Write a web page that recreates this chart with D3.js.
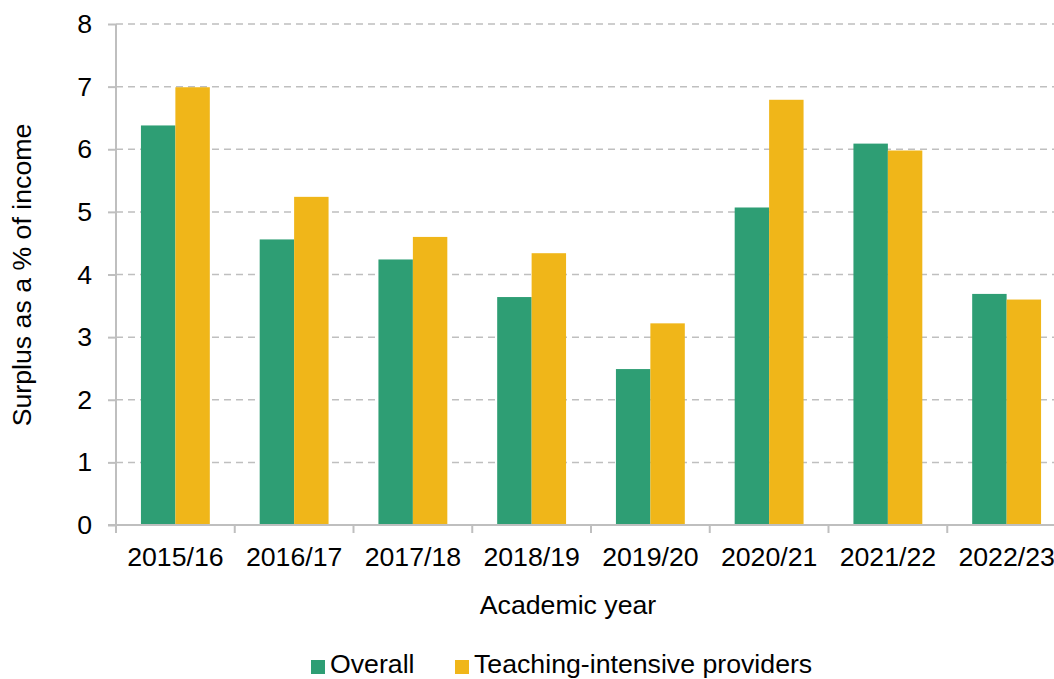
<!DOCTYPE html>
<html>
<head>
<meta charset="utf-8">
<script src="https://cdn.jsdelivr.net/npm/d3@7"></script>
<style>
  body { margin: 0; background: #fff; }
  text { font-family: "Liberation Sans", Arial, sans-serif; fill: #000; }
</style>
</head>
<body>
<svg id="chart" width="1054" height="679"></svg>
<script>
var years = ["2015/16", "2016/17", "2017/18", "2018/19", "2019/20", "2020/21", "2021/22", "2022/23"];
var overall = [6.38, 4.56, 4.24, 3.64, 2.49, 5.07, 6.09, 3.69];
var teaching = [6.99, 5.24, 4.6, 4.34, 3.22, 6.79, 5.98, 3.6];
var seriesNames = ["Overall", "Teaching-intensive providers"];
var colors = ["#2E9E74", "#F0B619"];
var yTicks = [0, 1, 2, 3, 4, 5, 6, 7, 8];

var fs = "26.7px";
var margin = { top: 24, left: 116 },
    width = 950,
    height = 501;

var svg = d3.select("#chart")
  .append("g")
  .attr("transform", "translate(" + margin.left + "," + margin.top + ")");

var x = d3.scaleBand().domain(years).range([0, width]).paddingInner(0).paddingOuter(0);
var x1 = d3.scaleBand().domain(seriesNames).range([x.bandwidth() * 0.21, x.bandwidth() * 0.79]);
var y = d3.scaleLinear().domain([0, 8]).range([height, 0]);

// gridlines
svg.selectAll(".grid")
  .data(yTicks.slice(1))
  .enter().append("line")
  .attr("x1", 0).attr("x2", width)
  .attr("y1", function (d) { return y(d); })
  .attr("y2", function (d) { return y(d); })
  .attr("stroke", "#BFBFBF")
  .attr("stroke-width", 1.5)
  .attr("stroke-dasharray", "7,5");

var rows = years.map(function (yr, i) { return { year: yr, values: [overall[i], teaching[i]] }; });

var groups = svg.selectAll(".grp")
  .data(rows)
  .enter().append("g")
  .attr("transform", function (d) { return "translate(" + x(d.year) + ",0)"; });

groups.selectAll("rect")
  .data(function (d) { return d.values.map(function (v, j) { return { name: seriesNames[j], v: v, c: colors[j] }; }); })
  .enter().append("rect")
  .attr("x", function (d) { return x1(d.name); })
  .attr("width", x1.bandwidth())
  .attr("y", function (d) { return y(d.v); })
  .attr("height", function (d) { return height - y(d.v); })
  .attr("fill", function (d) { return d.c; });

// y axis
var yAxis = svg.append("g")
  .call(d3.axisLeft(y).tickValues(yTicks).tickSize(8).tickPadding(16));
yAxis.select(".domain").attr("stroke", "#BFBFBF").attr("stroke-width", 2).attr("d", "M0," + height + "V0");
yAxis.selectAll(".tick line").attr("stroke", "#BFBFBF").attr("stroke-width", 2);
yAxis.selectAll(".tick text").style("font-size", fs);

// x axis
var xAxis = svg.append("g")
  .attr("transform", "translate(0," + height + ")")
  .call(d3.axisBottom(x).tickSize(0).tickPadding(22));
xAxis.select(".domain").attr("stroke", "#BFBFBF").attr("stroke-width", 2).attr("d", "M-8,0H" + width);
xAxis.selectAll(".tick text").style("font-size", fs);
xAxis.selectAll(".sep")
  .data(years)
  .enter().append("line")
  .attr("x1", function (d) { return x(d); })
  .attr("x2", function (d) { return x(d); })
  .attr("y1", 0).attr("y2", 8)
  .attr("stroke", "#BFBFBF").attr("stroke-width", 2);

// titles
d3.select("#chart").append("text")
  .attr("transform", "translate(31,275) rotate(-90)")
  .attr("text-anchor", "middle")
  .style("font-size", fs)
  .text("Surplus as a % of income");

d3.select("#chart").append("text")
  .attr("x", 568).attr("y", 614)
  .attr("text-anchor", "middle")
  .style("font-size", fs)
  .text("Academic year");

// legend
var legendX = [311, 455];
var legend = d3.select("#chart").selectAll(".leg")
  .data(seriesNames)
  .enter().append("g")
  .attr("transform", function (d, i) { return "translate(" + legendX[i] + ",660)"; });
legend.append("rect")
  .attr("width", 14).attr("height", 14)
  .attr("fill", function (d, i) { return colors[i]; });
legend.append("text")
  .attr("x", 19).attr("y", 13)
  .style("font-size", fs)
  .text(function (d) { return d; });
</script>
</body>
</html>
